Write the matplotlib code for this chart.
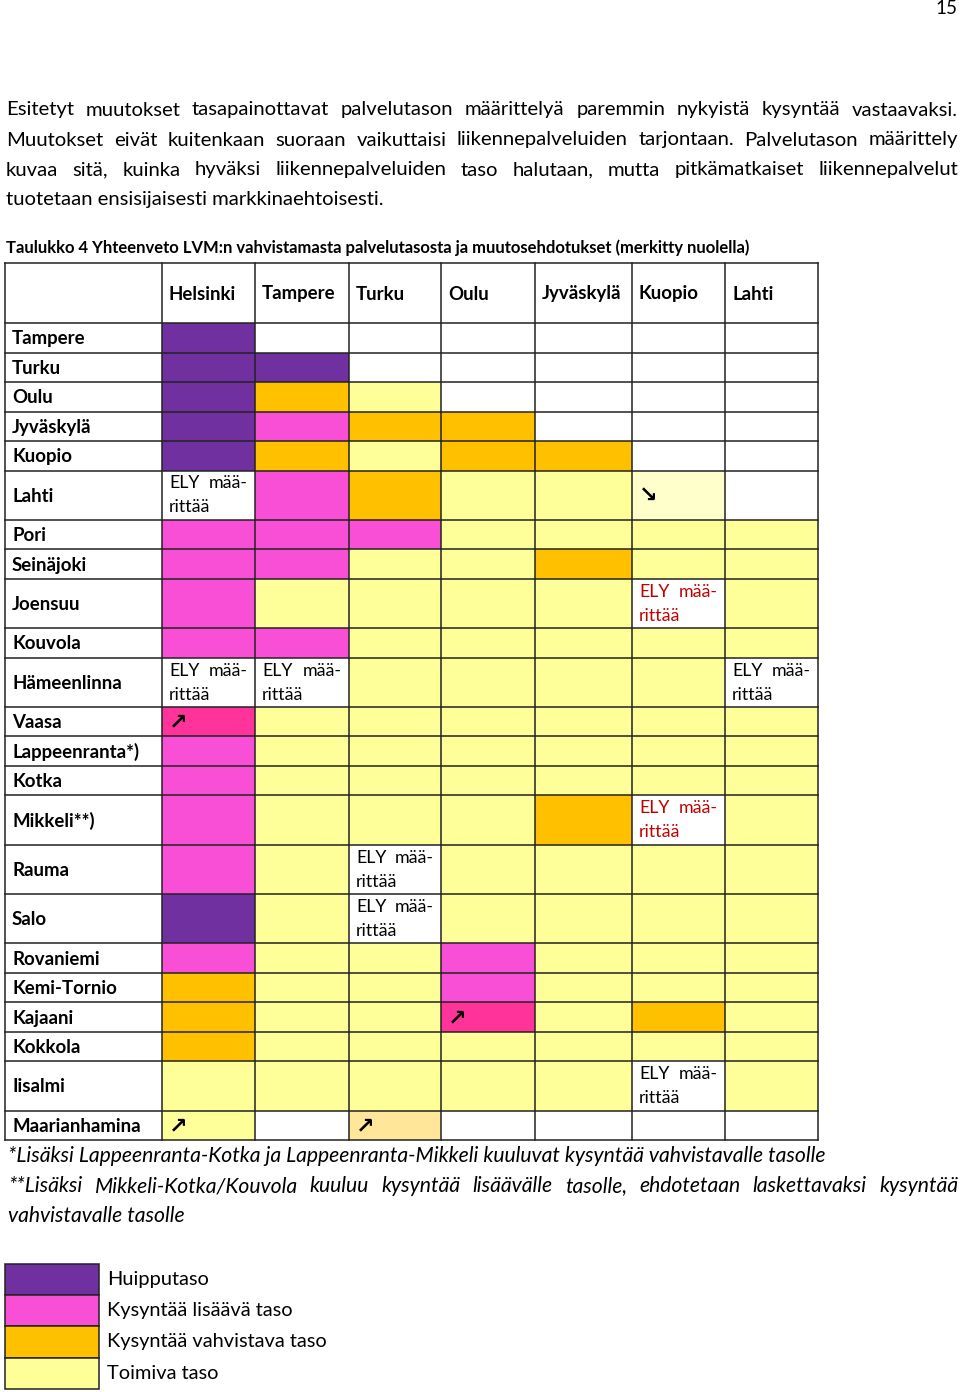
import matplotlib
matplotlib.use("Agg")
import matplotlib.pyplot as plt
from matplotlib.patches import Rectangle

# === Data ===
COLUMNS = ["Helsinki", "Tampere", "Turku", "Oulu", "Jyväskylä", "Kuopio", "Lahti"]
ROWS = ["Tampere", "Turku", "Oulu", "Jyväskylä", "Kuopio", "Lahti", "Pori",
        "Seinäjoki", "Joensuu", "Kouvola", "Hämeenlinna", "Vaasa",
        "Lappeenranta*)", "Kotka", "Mikkeli**)", "Rauma", "Salo", "Rovaniemi",
        "Kemi-Tornio", "Kajaani", "Kokkola", "Iisalmi", "Maarianhamina"]
# P huipputaso, M lisäävä, O vahvistava, Y toimiva, W tyhjä/ELY,
# R muutos ylös (lisäävä), L muutos alas, T muutos ylös (vahvistava)
LEVELS = ["PWWWWWW", "PPWWWWW", "POYWWWW", "PMOOWWW", "POYOOWW", "WMOYYLW",
          "MMMYYYY", "MMYYOYY", "MYYYYWY", "MMYYYYY", "WWYYYYW", "RYYYYYY",
          "MYYYYYY", "MYYYYYY", "MYYYOWY", "MYWYYYY", "PYWYYYY", "MYYMYYY",
          "OYYMYYY", "OYYRYOY", "OYYYYYY", "YYYYYWY", "YWTWWWW"]
# ELY-merkinnät: (rivi, sarake, väri)
ELY_CELLS = [(5, 0, "k"), (8, 5, "r"), (10, 0, "k"), (10, 1, "k"), (10, 6, "k"),
             (14, 5, "r"), (15, 2, "k"), (16, 2, "k"), (21, 5, "k")]
# nuolet: (rivi, sarake, merkki)
ARROWS = [(5, 5, "↘"), (11, 0, "↗"), (19, 3, "↗"), (22, 0, "↗"), (22, 2, "↗")]

LEGEND_LABELS = ["Huipputaso", "Kysyntää lisäävä taso",
                 "Kysyntää vahvistava taso", "Toimiva taso"]
LEGEND_CODES = ["P", "M", "O", "Y"]

PARAGRAPH = [
    "Esitetyt muutokset tasapainottavat palvelutason määrittelyä paremmin nykyistä kysyntää vastaavaksi.",
    "Muutokset eivät kuitenkaan suoraan vaikuttaisi liikennepalveluiden tarjontaan. Palvelutason määrittely",
    "kuvaa sitä, kuinka hyväksi liikennepalveluiden taso halutaan, mutta pitkämatkaiset liikennepalvelut",
    "tuotetaan ensisijaisesti markkinaehtoisesti.",
]
TITLE = "Taulukko 4 Yhteenveto LVM:n vahvistamasta palvelutasosta ja muutosehdotukset (merkitty nuolella)"
NOTES = [
    "*Lisäksi Lappeenranta-Kotka ja Lappeenranta-Mikkeli kuuluvat kysyntää vahvistavalle tasolle",
    "**Lisäksi Mikkeli-Kotka/Kouvola kuuluu kysyntää lisäävälle tasolle, ehdotetaan laskettavaksi kysyntää",
    "vahvistavalle tasolle",
]

COLORS = {"P": "#7030a0", "M": "#f94fd6", "O": "#ffc000", "Y": "#ffff99",
          "W": "#ffffff", "R": "#ff3399", "L": "#ffffcc", "T": "#ffe699"}

FONT = "Lato"
W, H = 960, 1392
BODY = 14.6
CELL = 13.4

fig = plt.figure(figsize=(W / 100, H / 100), dpi=100)
ax = fig.add_axes([0, 0, 1, 1])
ax.set_xlim(0, W)
ax.set_ylim(H, 0)
ax.axis("off")
renderer = fig.canvas.get_renderer()


def justified(words_line, x0, x1, y, **kw):
    words = words_line.split()
    objs = [ax.text(0, y, w, va="center", ha="left", **kw) for w in words]
    widths = [t.get_window_extent(renderer).width for t in objs]
    gap = (x1 - x0 - sum(widths)) / max(len(words) - 1, 1)
    x = x0
    for t, wd in zip(objs, widths):
        t.set_x(x)
        x += wd + gap


# page number
ax.text(957, 9, "15", ha="right", va="center", fontsize=13.5, family=FONT)

# paragraph
for i, line in enumerate(PARAGRAPH):
    y = 110 + i * 30
    if i < len(PARAGRAPH) - 1:
        justified(line, 6, 958, y, fontsize=BODY, family=FONT)
    else:
        ax.text(6, y, line, va="center", fontsize=BODY, family=FONT)

ax.text(6, 248, TITLE, va="center", fontsize=12.0, family=FONT,
        fontweight="bold")

# table geometry
col_edges = [5, 162, 255, 349, 441, 535, 632, 725, 818]
top, header_h = 263, 60
ely_rows = {r for r, c, _ in ELY_CELLS}
row_h = [49.3 if r in ely_rows else 29.5 for r in range(len(ROWS))]
row_edges = [top + header_h]
for h in row_h:
    row_edges.append(row_edges[-1] + h)

# cells
for r, codes in enumerate(LEVELS):
    for c, code in enumerate(codes):
        x0, x1 = col_edges[c + 1], col_edges[c + 2]
        y0, y1 = row_edges[r], row_edges[r + 1]
        ax.add_patch(Rectangle((x0, y0), x1 - x0, y1 - y0,
                               facecolor=COLORS[code], edgecolor="none"))

# grid lines
for x in col_edges:
    ax.plot([x, x], [top, row_edges[-1]], color="#222222", lw=1.1)
for y in [top] + row_edges:
    ax.plot([col_edges[0], col_edges[-1]], [y, y], color="#222222", lw=1.1)

# header & row labels
for c, name in enumerate(COLUMNS):
    ax.text(col_edges[c + 1] + 7, top + header_h / 2 + 1, name, va="center",
            fontsize=CELL, family=FONT, fontweight="bold")
for r, name in enumerate(ROWS):
    ax.text(12, (row_edges[r] + row_edges[r + 1]) / 2 + 1, name, va="center",
            fontsize=CELL, family=FONT, fontweight="bold")

# ELY texts
for r, c, col in ELY_CELLS:
    x0 = col_edges[c + 1] + 7
    color = "#c00000" if col == "r" else "black"
    justified("ELY mää-", x0, col_edges[c + 2] - 7, row_edges[r] + 13,
              fontsize=12.8, family=FONT, color=color)
    ax.text(x0, row_edges[r] + 37, "rittää", va="center", fontsize=12.8,
            family=FONT, color=color)

# arrows
for r, c, sym in ARROWS:
    ax.text(col_edges[c + 1] + 7, (row_edges[r] + row_edges[r + 1]) / 2 + 1, sym,
            va="center", fontsize=16, family="DejaVu Sans", fontweight="bold")

# footnotes
ax.text(8, 1156, NOTES[0], va="center", fontsize=15.2, family=FONT,
        style="italic")
justified(NOTES[1], 8, 958, 1186, fontsize=15.2, family=FONT, style="italic")
ax.text(8, 1216, NOTES[2], va="center", fontsize=15.2, family=FONT,
        style="italic")

# legend
for i, (lab, code) in enumerate(zip(LEGEND_LABELS, LEGEND_CODES)):
    y0 = 1264 + i * 31.2
    ax.add_patch(Rectangle((5, y0), 94, 31.2, facecolor=COLORS[code],
                           edgecolor="#222222", lw=1.1))
    ax.text(107, y0 + 15.6, lab, va="center", fontsize=14.4, family=FONT)

fig.savefig("out.png", dpi=100)
